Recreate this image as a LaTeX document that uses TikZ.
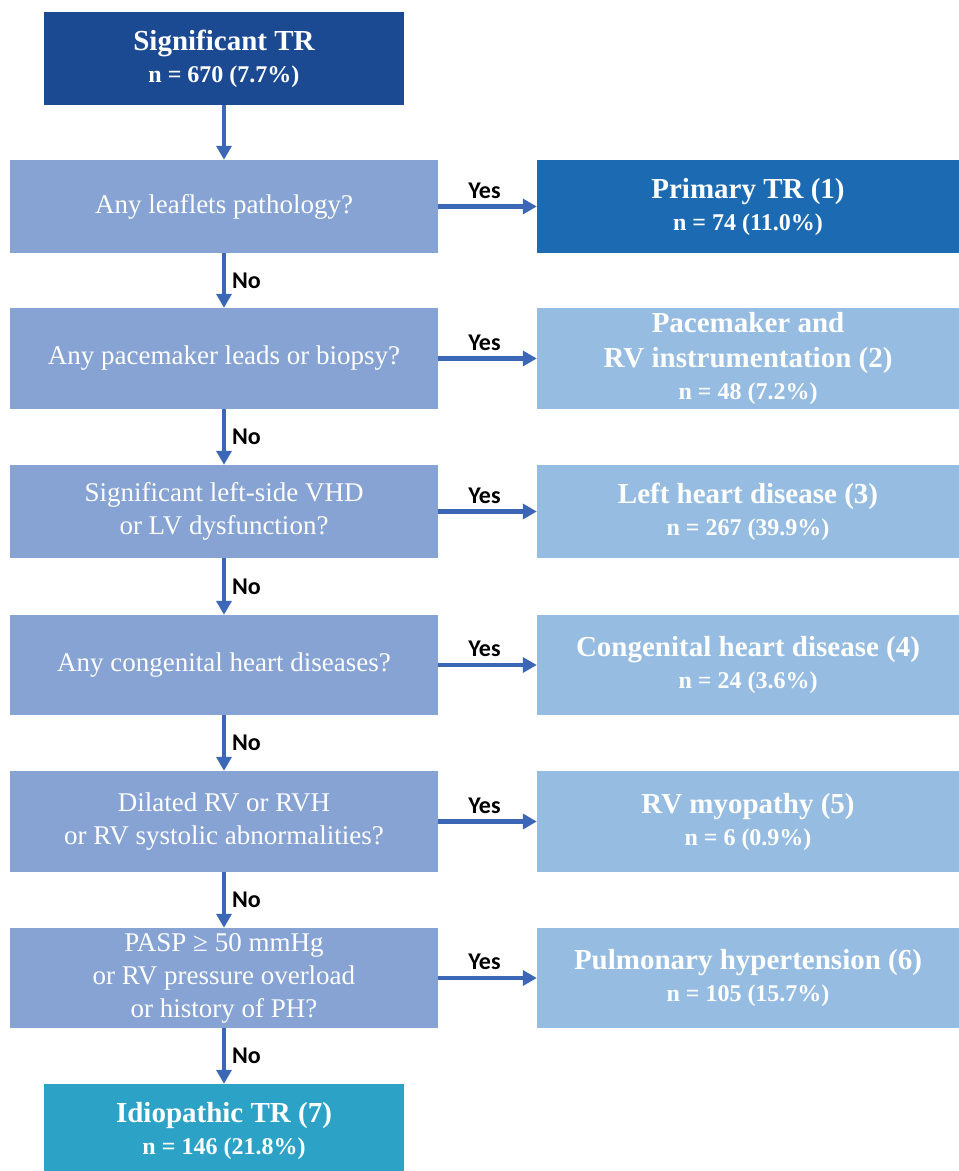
\documentclass[tikz,border=0pt]{standalone}
\usepackage{fontspec}
\setmainfont{Liberation Serif}
\newfontfamily\calib{Carlito}
\usetikzlibrary{arrows.meta}

\definecolor{topblue}{HTML}{1C4A92}
\definecolor{primblue}{HTML}{1C6AB2}
\definecolor{askblue}{HTML}{86A3D3}
\definecolor{catblue}{HTML}{96BCE2}
\definecolor{idioblue}{HTML}{2CA3C6}
\definecolor{flowblue}{HTML}{3B67B6}

\newcommand{\nline}[1]{{\fontsize{24}{32}\selectfont #1}}

\begin{document}
\begin{tikzpicture}[
  x=1pt,y=-1pt,
  every node/.style={text=white,align=center,inner sep=2pt},
  ask/.style={fill=askblue,minimum width=428pt,font=\fontsize{27}{33}\selectfont},
  cat/.style={fill=catblue,minimum width=422pt,font=\bfseries\fontsize{29}{32}\selectfont},
  endbox/.style={minimum width=360pt,minimum height=93pt,font=\bfseries\fontsize{29}{32}\selectfont},
  flow/.style={-{Triangle[length=14pt,width=15pt]},line width=4.2pt,flowblue},
  yeslab/.style={midway,above=6pt,xshift=-3pt,inner sep=0pt,text=black,font=\calib\bfseries\fontsize{24}{26}\selectfont},
  nolab/.style={midway,right=6pt,inner sep=0pt,text=black,font=\calib\bfseries\fontsize{24}{26}\selectfont}
]
  \useasboundingbox (0,0) rectangle (959,1171);
  \node[endbox,fill=topblue] (sig) at (224,58.5) {Significant TR\\\nline{n = 670 (7.7\%)}};
  % questions
  \node[ask,minimum height=93pt]  (q1) at (224,206.5) {Any leaflets pathology?};
  \node[ask,minimum height=101pt] (q2) at (224,358.5) {Any pacemaker leads or biopsy?};
  \node[ask,minimum height=93pt]  (q3) at (224,511.5) {Significant left-side VHD\\or LV dysfunction?};
  \node[ask,minimum height=100pt] (q4) at (224,665) {Any congenital heart diseases?};
  \node[ask,minimum height=101pt] (q5) at (224,821.5) {Dilated RV or RVH\\or RV systolic abnormalities?};
  \node[ask,minimum height=100pt] (q6) at (224,978) {PASP ≥ 50 mmHg\\or RV pressure overload\\or history of PH?};
  % categories
  \node[cat,fill=primblue,minimum height=93pt] (r1) at (748,206.5) {Primary TR (1)\\\nline{n = 74 (11.0\%)}};
  \node[cat,minimum height=101pt] (r2) at (748,358.5) {Pacemaker and\\[3pt]RV instrumentation (2)\\\nline{n = 48 (7.2\%)}};
  \node[cat,minimum height=93pt]  (r3) at (748,511.5) {Left heart disease (3)\\\nline{n = 267 (39.9\%)}};
  \node[cat,minimum height=100pt] (r4) at (748,665) {Congenital heart disease (4)\\\nline{n = 24 (3.6\%)}};
  \node[cat,minimum height=101pt] (r5) at (748,821.5) {RV myopathy (5)\\\nline{n = 6 (0.9\%)}};
  \node[cat,minimum height=100pt] (r6) at (748,978) {Pulmonary hypertension (6)\\\nline{n = 105 (15.7\%)}};
  \node[endbox,fill=idioblue] (idio) at (224,1130.5) {Idiopathic TR (7)\\\nline{n = 146 (21.8\%)}};
  % connectors
  \draw[flow] (sig)--(q1);
  \foreach \a/\b in {q1/q2,q2/q3,q3/q4,q4/q5,q5/q6,q6/idio}
    \draw[flow] (\a)--node[nolab]{No}(\b);
  \foreach \i in {1,...,6}
    \draw[flow] (q\i)--node[yeslab]{Yes}(r\i);
\end{tikzpicture}
\end{document}
